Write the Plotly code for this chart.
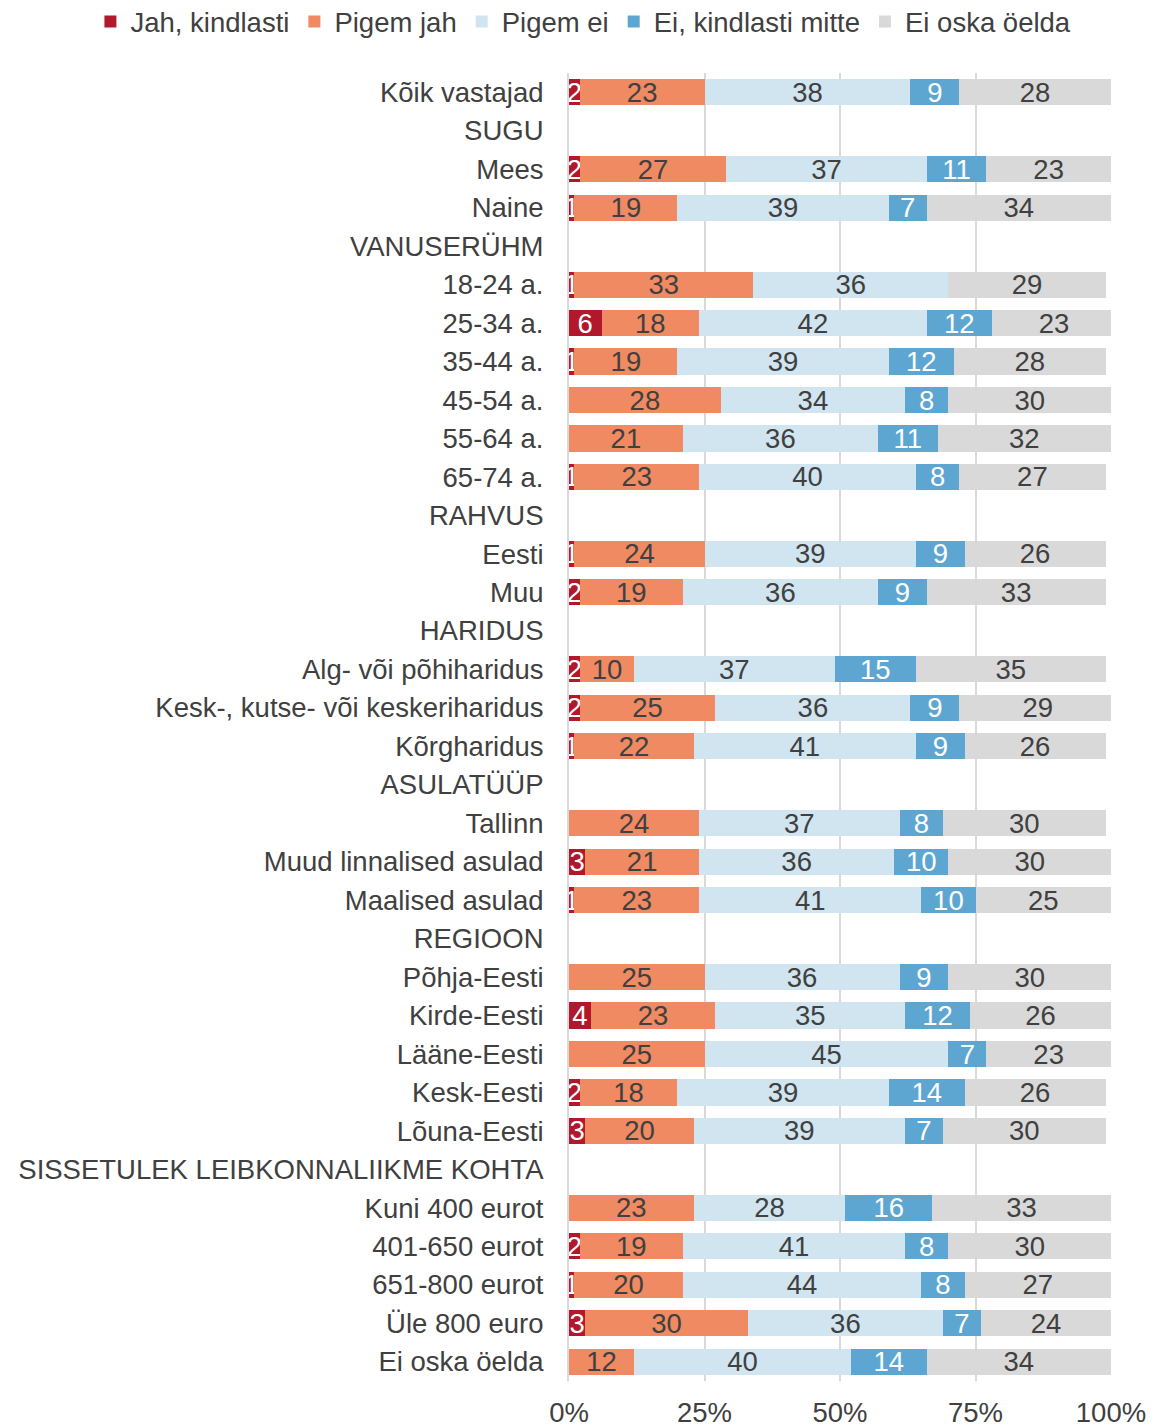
import plotly.graph_objects as go

# Survey groups, top to bottom; section headings have no bars
categories = [
    "Kõik vastajad", "SUGU", "Mees", "Naine", "VANUSERÜHM",
    "18-24 a.", "25-34 a.", "35-44 a.", "45-54 a.", "55-64 a.", "65-74 a.",
    "RAHVUS", "Eesti", "Muu", "HARIDUS",
    "Alg- või põhiharidus", "Kesk-, kutse- või keskeriharidus", "Kõrgharidus",
    "ASULATÜÜP", "Tallinn", "Muud linnalised asulad", "Maalised asulad",
    "REGIOON", "Põhja-Eesti", "Kirde-Eesti", "Lääne-Eesti", "Kesk-Eesti", "Lõuna-Eesti",
    "SISSETULEK LEIBKONNALIIKME KOHTA",
    "Kuni 400 eurot", "401-650 eurot", "651-800 eurot", "Üle 800 euro", "Ei oska öelda",
]

N = None
jah_kindlasti = [2, N, 2, 1, N, 1, 6, 1, N, N, 1, N, 1, 2, N, 2, 2, 1, N, 0, 3, 1,
                 N, 0, 4, N, 2, 3, N, N, 2, 1, 3, N]
pigem_jah = [23, N, 27, 19, N, 33, 18, 19, 28, 21, 23, N, 24, 19, N, 10, 25, 22, N, 24, 21, 23,
             N, 25, 23, 25, 18, 20, N, 23, 19, 20, 30, 12]
pigem_ei = [38, N, 37, 39, N, 36, 42, 39, 34, 36, 40, N, 39, 36, N, 37, 36, 41, N, 37, 36, 41,
            N, 36, 35, 45, 39, 39, N, 28, 41, 44, 36, 40]
ei_kindlasti_mitte = [9, N, 11, 7, N, N, 12, 12, 8, 11, 8, N, 9, 9, N, 15, 9, 9, N, 8, 10, 10,
                      N, 9, 12, 7, 14, 7, N, 16, 8, 8, 7, 14]
ei_oska_oelda = [28, N, 23, 34, N, 29, 23, 28, 30, 32, 27, N, 26, 33, N, 35, 29, 26, N, 30, 30, 25,
                 N, 30, 26, 23, 26, 30, N, 33, 30, 27, 24, 34]

series = [
    ("Jah, kindlasti", jah_kindlasti, "#b2182b", "white"),
    ("Pigem jah", pigem_jah, "#ef8a62", "#404040"),
    ("Pigem ei", pigem_ei, "#d1e5f0", "#404040"),
    ("Ei, kindlasti mitte", ei_kindlasti_mitte, "#5ea6d2", "white"),
    ("Ei oska öelda", ei_oska_oelda, "#d9d9d9", "#404040"),
]

x_ticks = [0, 25, 50, 75, 100]
x_tick_labels = ["0%", "25%", "50%", "75%", "100%"]

FONT = "Liberation Sans, Arial, sans-serif"
FS = 27.5

fig = go.Figure()
for name, vals, color, txtcolor in series:
    fig.add_trace(go.Bar(
        y=categories,
        x=vals,
        name=name,
        orientation="h",
        marker=dict(color=color, line=dict(width=0)),
        text=["" if v is None else str(v) for v in vals],
        textposition="inside",
        insidetextanchor="middle",
        textangle=0,
        textfont=dict(family=FONT, size=FS, color=txtcolor),
        hoverinfo="skip",
    ))

fig.update_layout(
    width=1155,
    height=1427,
    barmode="stack",
    bargap=0.32,
    paper_bgcolor="white",
    plot_bgcolor="white",
    margin=dict(l=569, r=44, t=73, b=46, autoexpand=False),
    font=dict(family=FONT, size=FS, color="#404040"),
    uniformtext=dict(mode="show", minsize=FS),
    legend=dict(
        orientation="h",
        x=-0.883, xanchor="left",
        y=1.058, yanchor="top",
        font=dict(family=FONT, size=FS, color="#404040"),
        itemwidth=30,
        traceorder="normal",
        bgcolor="rgba(0,0,0,0)",
    ),
    showlegend=True,
)

fig.update_xaxes(
    range=[0, 100],
    tickvals=x_ticks,
    ticktext=x_tick_labels,
    showgrid=True,
    gridcolor="#d9d9d9",
    gridwidth=1.5,
    zeroline=False,
    showline=False,
    ticklabelstandoff=12,
    automargin=False,
    tickfont=dict(family=FONT, size=FS, color="#404040"),
    fixedrange=True,
)
fig.update_yaxes(
    categoryorder="array",
    categoryarray=categories,
    autorange="reversed",
    showgrid=False,
    showline=True,
    linecolor="#d9d9d9",
    linewidth=2,
    ticks="",
    ticklabelstandoff=18,
    automargin=False,
    tickfont=dict(family=FONT, size=FS, color="#404040"),
    fixedrange=True,
)

fig.write_html("out.html")
